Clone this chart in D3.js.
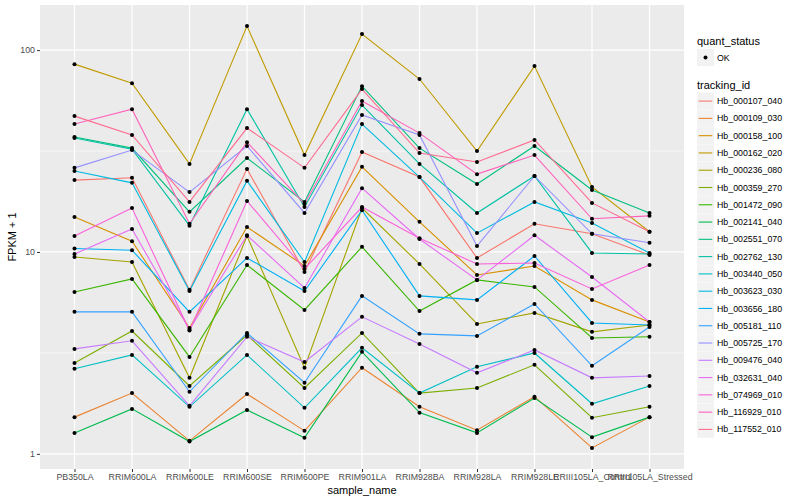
<!DOCTYPE html>
<html>
<head>
<meta charset="utf-8">
<script src="https://cdn.jsdelivr.net/npm/d3@7"></script>
<style>
  body { margin: 0; background: #fff; }
  text { font-family: "Liberation Sans", Arial, sans-serif; }
</style>
</head>
<body>
<svg id="chart" width="800" height="500"></svg>
<script>
// categories
const samples = ["PB350LA", "RRIM600LA", "RRIM600LE", "RRIM600SE", "RRIM600PE", "RRIM901LA",
  "RRIM928BA", "RRIM928LA", "RRIM928LE", "RRIII105LA_Control", "RRIII105LA_Stressed"];
const trackingIds = ["Hb_000107_040", "Hb_000109_030", "Hb_000158_100", "Hb_000162_020", "Hb_000236_080",
  "Hb_000359_270", "Hb_001472_090", "Hb_002141_040", "Hb_002551_070", "Hb_002762_130",
  "Hb_003440_050", "Hb_003623_030", "Hb_003656_180", "Hb_005181_110", "Hb_005725_170",
  "Hb_009476_040", "Hb_032631_040", "Hb_074969_010", "Hb_116929_010", "Hb_117552_010"];
const colors = ["#F8766D", "#EA8331", "#D89000", "#C09B00", "#A3A500", "#7CAE00", "#39B600", "#00BB4E",
  "#00BF7D", "#00C1A3", "#00BFC4", "#00BAE0", "#00B0F6", "#35A2FF", "#9590FF", "#C77CFF",
  "#E76BF3", "#FA62DB", "#FF62BC", "#FF6C90"];
const yTicks = [1, 10, 100];
const yMinor = [Math.sqrt(10), Math.sqrt(1000)];

// FPKM + 1, one array per tracking_id, in sample order
const hb_000107_040 = [22.7, 23.3, 6.49, 25.8, 7.96, 31.3, 23.5, 9.34, 13.8, 12.3, 9.66];
const hb_000109_030 = [1.52, 2.00, 1.16, 1.98, 1.30, 2.67, 1.71, 1.31, 1.92, 1.07, 1.52];
const hb_000158_100 = [14.9, 11.3, 4.20, 13.3, 8.52, 26.4, 14.1, 7.69, 8.52, 5.79, 4.50];
const hb_000162_020 = [85.2, 68.6, 27.3, 131.5, 30.2, 120.0, 71.9, 31.6, 83.3, 21.0, 12.6];
const hb_000236_080 = [9.45, 8.92, 2.38, 12.0, 2.67, 16.5, 8.72, 4.40, 4.99, 4.02, 4.35];
const hb_000359_270 = [2.82, 4.06, 2.17, 3.88, 2.12, 3.97, 2.00, 2.12, 2.76, 1.51, 1.71];
const hb_001472_090 = [6.34, 7.35, 3.02, 8.62, 5.16, 10.6, 5.10, 7.27, 6.71, 3.75, 3.80];
const hb_002141_040 = [1.27, 1.67, 1.15, 1.65, 1.20, 3.20, 1.60, 1.27, 1.89, 1.21, 1.52];
const hb_002551_070 = [37.1, 32.7, 15.8, 29.2, 17.7, 66.3, 32.7, 21.7, 33.5, 20.3, 15.6];
const hb_002762_130 = [36.7, 32.3, 13.5, 51.0, 16.7, 53.4, 27.3, 15.6, 23.8, 9.89, 9.77];
const hb_003440_050 = [2.64, 3.09, 1.71, 3.09, 1.69, 3.35, 2.00, 2.70, 3.16, 1.77, 2.17];
const hb_003623_030 = [25.2, 22.0, 6.41, 22.5, 8.92, 43.0, 23.5, 12.4, 17.7, 13.9, 9.89];
const hb_003656_180 = [10.4, 10.2, 5.05, 9.34, 6.41, 16.1, 6.06, 5.79, 9.55, 4.45, 4.35];
const hb_005181_110 = [5.05, 5.05, 2.03, 3.97, 2.25, 6.06, 3.93, 3.84, 5.53, 2.73, 4.25];
const hb_005725_170 = [26.1, 32.0, 19.8, 33.5, 15.6, 47.7, 38.0, 10.7, 23.8, 12.3, 11.1];
const hb_009476_040 = [3.31, 3.63, 1.73, 3.80, 2.85, 4.77, 3.50, 2.52, 3.27, 2.38, 2.43];
const hb_032631_040 = [9.77, 13.0, 4.12, 12.1, 6.63, 20.7, 11.6, 7.27, 12.1, 7.52, 4.50];
const hb_074969_010 = [12.0, 16.5, 4.08, 17.9, 8.24, 16.7, 11.7, 8.72, 8.82, 6.56, 8.62];
const hb_116929_010 = [43.0, 51.0, 13.8, 35.0, 17.3, 55.9, 38.8, 24.3, 30.2, 14.6, 15.1];
const hb_117552_010 = [47.1, 38.0, 17.7, 41.1, 26.1, 64.1, 30.9, 27.9, 35.9, 17.5, 12.6];

const seriesValues = [hb_000107_040, hb_000109_030, hb_000158_100, hb_000162_020, hb_000236_080,
  hb_000359_270, hb_001472_090, hb_002141_040, hb_002551_070, hb_002762_130,
  hb_003440_050, hb_003623_030, hb_003656_180, hb_005181_110, hb_005725_170,
  hb_009476_040, hb_032631_040, hb_074969_010, hb_116929_010, hb_117552_010];

const series = trackingIds.map((id, i) => ({
  id, color: colors[i],
  points: samples.map((s, j) => ({ sample: s, value: seriesValues[i][j] }))
}));

const svg = d3.select("#chart");
const panel = { left: 40, right: 684, top: 5, bottom: 469 };

// log scale with ggplot-style 5% expansion in log space
const all = seriesValues.flat();
const lo = Math.log10(d3.min(all)), hi = Math.log10(d3.max(all));
const pad = (hi - lo) * 0.05;
const y = d3.scaleLog()
  .domain([Math.pow(10, lo - pad), Math.pow(10, hi + pad)])
  .range([panel.bottom, panel.top]);

const x = d3.scalePoint()
  .domain(samples)
  .range([panel.left, panel.right])
  .padding(0.6);

// panel background
svg.append("rect")
  .attr("x", panel.left).attr("y", panel.top)
  .attr("width", panel.right - panel.left).attr("height", panel.bottom - panel.top)
  .attr("fill", "#EBEBEB");

// grid lines
const grid = svg.append("g");
grid.selectAll(".minor").data(yMinor).enter().append("line")
  .attr("x1", panel.left).attr("x2", panel.right)
  .attr("y1", d => y(d)).attr("y2", d => y(d))
  .attr("stroke", "#fff").attr("stroke-width", 0.6);
grid.selectAll(".majory").data(yTicks).enter().append("line")
  .attr("x1", panel.left).attr("x2", panel.right)
  .attr("y1", d => y(d)).attr("y2", d => y(d))
  .attr("stroke", "#fff").attr("stroke-width", 1.2);
grid.selectAll(".majorx").data(samples).enter().append("line")
  .attr("x1", d => x(d)).attr("x2", d => x(d))
  .attr("y1", panel.top).attr("y2", panel.bottom)
  .attr("stroke", "#fff").attr("stroke-width", 1.2);

// lines
const line = d3.line().x(d => x(d.sample)).y(d => y(d.value));
svg.append("g").selectAll("path").data(series).enter().append("path")
  .attr("d", d => line(d.points))
  .attr("fill", "none")
  .attr("stroke", d => d.color)
  .attr("stroke-width", 1.1);

// points (quant_status = OK)
svg.append("g").selectAll("g").data(series).enter().append("g")
  .selectAll("circle").data(d => d.points).enter().append("circle")
  .attr("cx", d => x(d.sample)).attr("cy", d => y(d.value))
  .attr("r", 2).attr("fill", "#000");

// axes
const xAxis = svg.append("g")
  .attr("transform", `translate(0,${panel.bottom})`)
  .call(d3.axisBottom(x).tickSize(3).tickPadding(2));
const yAxis = svg.append("g")
  .attr("transform", `translate(${panel.left},0)`)
  .call(d3.axisLeft(y).tickValues(yTicks).tickFormat(d3.format("d")).tickSize(3).tickPadding(2));
[xAxis, yAxis].forEach(a => {
  a.select(".domain").remove();
  a.selectAll(".tick line").attr("stroke", "#333333");
  a.selectAll(".tick text").attr("fill", "#4D4D4D").style("font-size", "8.8px")
    .style("font-family", '"Liberation Sans", Arial, sans-serif');
});

// axis titles
svg.append("text")
  .attr("x", (panel.left + panel.right) / 2).attr("y", 494)
  .attr("text-anchor", "middle").style("font-size", "11px")
  .text("sample_name");
svg.append("text")
  .attr("transform", `translate(16,${(panel.top + panel.bottom) / 2}) rotate(-90)`)
  .attr("text-anchor", "middle").style("font-size", "11px")
  .text("FPKM + 1");

// legend: quant_status
const lg = svg.append("g").attr("transform", "translate(697,0)");
lg.append("text").attr("x", 0).attr("y", 45).style("font-size", "11px").text("quant_status");
lg.append("rect").attr("x", 0).attr("y", 49).attr("width", 17).attr("height", 17).attr("fill", "#F2F2F2");
lg.append("circle").attr("cx", 8.5).attr("cy", 57.5).attr("r", 2).attr("fill", "#000");
lg.append("text").attr("x", 20).attr("y", 57.5).attr("dy", "0.35em")
  .style("font-size", "8.8px").text("OK");

// legend: tracking_id
lg.append("text").attr("x", 0).attr("y", 89).style("font-size", "11px").text("tracking_id");
const keys = lg.selectAll(".key").data(series).enter().append("g")
  .attr("transform", (d, i) => `translate(0,${92.5 + i * 17.28})`);
keys.append("rect").attr("width", 17).attr("height", 17).attr("fill", "#F2F2F2");
keys.append("line").attr("x1", 1.7).attr("x2", 15.3).attr("y1", 8.6).attr("y2", 8.6)
  .attr("stroke", d => d.color).attr("stroke-width", 1.1);
keys.append("text").attr("x", 20).attr("y", 8.6).attr("dy", "0.35em")
  .style("font-size", "8.8px").text(d => d.id);
</script>
</body>
</html>
